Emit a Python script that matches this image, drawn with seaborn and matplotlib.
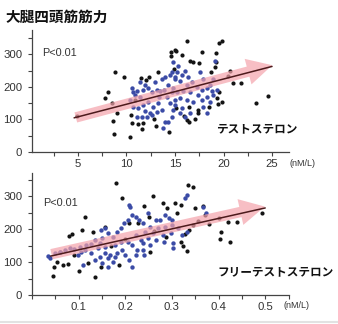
import matplotlib
matplotlib.use("Agg")
import matplotlib.pyplot as plt
from matplotlib.ticker import MultipleLocator, FuncFormatter
from matplotlib.lines import Line2D
import seaborn as sns

# ---- Testosterone (nM/L) vs quadriceps strength ----
t_black_x = [4.9, 7.8, 8.1, 8.5, 8.8, 9.0, 8.6, 8.7, 9.7, 10.4, 10.5, 10.6, 11.2, 11.7,
             11.6, 11.5, 12.3, 13.2, 12.0, 14.6, 15.0, 14.6, 16.2, 19.5, 19.8, 15.1,
             15.7, 17.8, 19.2, 16.5, 16.9, 17.5, 19.2, 19.1, 20.7, 18.7, 20.5, 21.0,
             21.8, 24.6, 23.4, 19.5, 19.3, 19.8, 19.4, 18.5, 16.4, 17.4, 16.2, 17.1,
             15.9, 15.1, 16.4, 17.4, 14.9, 14.4, 13.0, 12.8, 10.9]
t_black_y = [112, 167, 183, 152, 245, 121, 96, 56, 229, 46, 115, 90, 87, 90,
             71, 226, 232, 245, 222, 306, 313, 294, 341, 334, 340, 310,
             297, 306, 303, 279, 276, 275, 276, 260, 248, 245, 233, 211,
             211, 173, 152, 183, 167, 155, 149, 139, 139, 130, 99, 102,
             111, 136, 93, 120, 255, 62, 80, 100, 160]
t_blue_x = [10.6, 10.7, 10.4, 11.1, 11.4, 11.7, 12.2, 12.6, 13.1, 11.4, 11.9, 12.9,
            13.7, 14.0, 14.5, 15.0, 10.7, 11.2, 11.7, 12.2, 12.7, 13.2, 13.7, 11.1,
            11.6, 12.1, 12.6, 13.1, 14.0, 14.3, 13.8, 14.7, 14.2, 14.7, 15.0, 14.5,
            14.8, 13.5, 14.3, 14.8, 15.3, 14.7, 15.2, 15.7, 15.0, 15.5, 16.2, 16.8,
            17.3, 17.8, 18.3, 18.8, 19.3, 18.9, 18.3, 17.4, 16.5, 15.8, 15.2, 14.8,
            15.5, 16.2, 16.9, 17.8, 18.6, 15.0, 15.7, 16.5, 16.0, 15.5, 17.9, 18.3,
            19.1, 16.0, 17.6, 17.9, 18.6, 18.9, 13.4, 12.4, 13.9, 11.9, 10.9, 16.3]
t_blue_y = [198, 183, 161, 186, 170, 192, 198, 183, 192, 214, 207, 214,
            223, 232, 238, 232, 139, 136, 145, 155, 139, 152, 130, 108,
            108, 108, 115, 124, 93, 93, 74, 108, 170, 183, 161, 152,
            130, 186, 207, 276, 263, 245, 245, 238, 223, 217, 207, 214,
            201, 192, 198, 186, 192, 176, 170, 176, 183, 186, 183, 198,
            167, 161, 155, 161, 155, 145, 136, 121, 108, 121, 139, 121,
            279, 248, 245, 223, 207, 223, 168, 120, 190, 125, 175, 230]
t_fit_x = [4.6, 25.0]
t_fit_y = [105, 263]
t_arrow_x = [4.5, 25.3]
t_arrow_y = [104, 269]

# ---- Free testosterone (nM/L) vs quadriceps strength ----
f_black_x = [0.047, 0.045, 0.053, 0.066, 0.077, 0.100, 0.134, 0.120, 0.149, 0.187,
             0.209, 0.228, 0.194, 0.181, 0.113, 0.085, 0.079, 0.130, 0.108, 0.060,
             0.090, 0.170, 0.200, 0.334, 0.345, 0.260, 0.240, 0.280, 0.306, 0.320,
             0.290, 0.350, 0.366, 0.250, 0.370, 0.400, 0.420, 0.440, 0.494, 0.406,
             0.404, 0.425, 0.345, 0.336, 0.328, 0.320, 0.323, 0.332, 0.253, 0.262,
             0.287, 0.355, 0.380, 0.310, 0.157]
f_black_y = [85, 58, 100, 91, 94, 73, 55, 97, 85, 91,
             218, 218, 294, 339, 236, 185, 179, 191, 197, 130,
             120, 150, 170, 333, 327, 300, 270, 279, 279, 273,
             264, 264, 270, 236, 242, 233, 221, 221, 248, 191,
             170, 161, 212, 197, 185, 161, 148, 133, 130, 195,
             175, 225, 215, 250, 205]
f_blue_x = [0.034, 0.038, 0.049, 0.059, 0.070, 0.081, 0.091, 0.102, 0.098, 0.104,
            0.113, 0.115, 0.126, 0.134, 0.145, 0.151, 0.147, 0.156, 0.162, 0.173,
            0.183, 0.190, 0.198, 0.205, 0.209, 0.211, 0.215, 0.222, 0.230, 0.126,
            0.136, 0.145, 0.156, 0.162, 0.168, 0.177, 0.183, 0.151, 0.162, 0.173,
            0.194, 0.200, 0.209, 0.215, 0.222, 0.226, 0.215, 0.205, 0.190, 0.179,
            0.233, 0.222, 0.156, 0.141, 0.333, 0.329, 0.367, 0.372, 0.286, 0.293,
            0.301, 0.248, 0.265, 0.275, 0.237, 0.254, 0.271, 0.286, 0.301, 0.312,
            0.243, 0.260, 0.280, 0.297, 0.248, 0.265, 0.282, 0.303, 0.239, 0.254,
            0.303, 0.237, 0.322, 0.333, 0.110, 0.240]
f_blue_y = [118, 112, 127, 130, 136, 142, 139, 145, 121, 130,
            136, 152, 155, 167, 158, 173, 197, 203, 188, 176,
            191, 203, 218, 227, 273, 267, 242, 236, 227, 127,
            106, 115, 127, 112, 121, 115, 127, 97, 85, 100,
            136, 121, 106, 85, 121, 136, 152, 161, 161, 152,
            167, 182, 145, 142, 303, 294, 267, 248, 242, 233,
            227, 248, 227, 227, 218, 206, 203, 206, 212, 203,
            191, 188, 182, 188, 173, 167, 161, 158, 158, 152,
            142, 136, 182, 191, 90, 120]
f_fit_x = [0.040, 0.500]
f_fit_y = [118, 264]
f_arrow_x = [0.036, 0.505]
f_arrow_y = [122, 270]

title = "大腿四頭筋筋力"
labels = ["テストステロン", "フリーテストステロン"]
unit = "(nM/L)"
pval = "P<0.01"

sns.set_theme(style="ticks")
plt.rcParams["font.family"] = ["Liberation Sans", "DejaVu Sans"]
jp = ["Noto Sans CJK JP", "DejaVu Sans"]

W, H = 338, 324
fig = plt.figure(figsize=(W / 100, H / 100), dpi=100, facecolor="white")
ax1 = fig.add_axes([32 / W, 1 - 152 / H, (289 - 32) / W, (152 - 30) / H])
ax2 = fig.add_axes([32 / W, 1 - 295 / H, (289 - 32) / W, (295 - 173) / H])

BLACK = "#141414"
BLUE = "#3b4ba6"
PINK = "#f4a3ab"
LINE = "#4d1a1c"


def panel(ax, bx, by, ux, uy, fx, fy, axx, axy):
    sns.scatterplot(x=bx, y=by, ax=ax, color=BLACK, s=9, linewidth=0, zorder=3)
    sns.scatterplot(x=ux, y=uy, ax=ax, color=BLUE, s=10, linewidth=0, zorder=3)
    ax.annotate("", xy=(axx[1], axy[1]), xytext=(axx[0], axy[0]),
                arrowprops=dict(arrowstyle="simple,head_length=1.8,head_width=1.9,tail_width=0.75",
                                mutation_scale=10, color=PINK, alpha=0.7, lw=0),
                zorder=4)
    sns.lineplot(x=fx, y=fy, ax=ax, color=LINE, lw=1.1, zorder=5)
    for s in ("top", "right"):
        ax.spines[s].set_visible(False)
    for s in ("left", "bottom"):
        ax.spines[s].set_color("#444444")
        ax.spines[s].set_linewidth(0.9)
    ax.tick_params(which="both", length=3, width=0.8, color="#444444",
                   labelsize=8.2, labelcolor="#333333", pad=2)
    ax.tick_params(axis="y", which="both", pad=4)
    ax.set_ylim(0, 375)
    ax.yaxis.set_major_locator(MultipleLocator(100))
    ax.yaxis.set_minor_locator(MultipleLocator(50))
    ax.set_facecolor("white")


panel(ax1, t_black_x, t_black_y, t_blue_x, t_blue_y, t_fit_x, t_fit_y, t_arrow_x, t_arrow_y)
ax1.set_xlim(0.26, 26.75)
ax1.xaxis.set_major_locator(MultipleLocator(5))
ax1.xaxis.set_minor_locator(MultipleLocator(2.5))
ax1.text(1.3, 303, pval, fontsize=7.8, color="#333333", va="center")

panel(ax2, f_black_x, f_black_y, f_blue_x, f_blue_y, f_fit_x, f_fit_y, f_arrow_x, f_arrow_y)
ax2.set_xlim(0.0, 0.551)
ax2.xaxis.set_major_locator(MultipleLocator(0.1))
ax2.xaxis.set_minor_locator(MultipleLocator(0.05))
ax2.xaxis.set_major_formatter(FuncFormatter(lambda v, p: f"{v:.1f}" if v > 0.01 else ""))
ax2.set_ylim(0, 370)
ax2.text(0.023, 280, pval, fontsize=7.8, color="#333333", va="center")

fig.text(6 / W, 1 - 16.5 / H, title, family=jp, fontsize=10.5, fontweight="bold",
         color="#111111", va="center")
fig.text(216 / W, 1 - 129 / H, labels[0], family=jp, fontsize=8.4, fontweight="bold",
         color="#111111", va="center")
fig.text(217 / W, 1 - 272 / H, labels[1], family=jp, fontsize=8.4, fontweight="bold",
         color="#111111", va="center")
fig.text(289 / W, 1 - 163 / H, unit, fontsize=6.5, color="#333333", va="center")
fig.text(283 / W, 1 - 305 / H, unit, fontsize=6.5, color="#333333", va="center")

fig.add_artist(Line2D([0, 1], [1 - 321.5 / H, 1 - 321.5 / H], transform=fig.transFigure,
                      color="#e2e2e2", lw=1.5))

fig.savefig("out.png", dpi=100, facecolor="white")
